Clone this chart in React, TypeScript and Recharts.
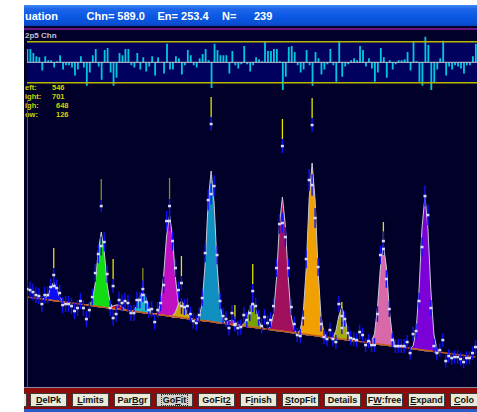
import React from 'react';
import {
  ComposedChart,
  BarChart,
  Bar,
  Area,
  Scatter,
  ErrorBar,
  XAxis,
  YAxis,
  ReferenceLine,
  ReferenceArea,
} from 'recharts';

const FIRST_CH = 546;
const LAST_CH = 701;

// measured counts, one value per channel from FIRST_CH
const counts = [
  99, 98, 96, 93, 92, 84, 93, 93, 101, 102,
  100, 95, 83, 84, 84, 82, 77, 80, 87, 80,
  69, 78, 91, 115, 134, 142, 146, 114, 80, 70,
  74, 88, 85, 87, 85, 75, 75, 88, 88, 99,
  86, 78, 79, 66, 78, 85, 103, 167, 167, 147,
  120, 98, 82, 81, 82, 74, 67, 65, 73, 90,
  135, 188, 194, 202, 133, 87, 72, 69, 60, 75,
  64, 60, 61, 73, 68, 75, 84, 82, 70, 62,
  71, 65, 68, 82, 120, 164, 165, 151, 120, 81,
  64, 53, 52, 70, 129, 208, 203, 170, 121, 64,
  51, 49, 58, 49, 46, 84, 72, 69, 55, 50,
  49, 48, 56, 53, 43, 47, 43, 43, 74, 133,
  147, 109, 79, 48, 42, 42, 42, 42, 46, 35,
  54, 57, 87, 141, 192, 173, 80, 42, 35, 38,
  48, 27, 32, 30, 31, 31, 29, 26, 30, 30, 35, 41,
];

// fitted background level under each channel
const background = [
  91, 91, 90, 90, 89, 89, 89, 88, 88, 87,
  87, 87, 86, 86, 85, 85, 85, 84, 84, 83,
  83, 83, 82, 82, 81, 81, 81, 80, 80, 79,
  79, 79, 78, 78, 77, 77, 77, 76, 76, 75,
  75, 75, 74, 74, 73, 73, 73, 72, 72, 71,
  71, 71, 70, 70, 69, 69, 69, 68, 68, 67,
  67, 67, 66, 66, 65, 65, 65, 64, 64, 63,
  63, 63, 62, 62, 61, 61, 61, 60, 60, 59,
  59, 59, 58, 58, 57, 57, 57, 56, 56, 55,
  55, 55, 54, 54, 53, 53, 53, 52, 52, 51,
  51, 51, 50, 50, 49, 49, 49, 48, 48, 47,
  47, 47, 46, 46, 45, 45, 45, 44, 44, 43,
  43, 43, 42, 42, 41, 41, 41, 40, 40, 39,
  39, 39, 38, 38, 37, 37, 37, 36, 36, 35,
  35, 35, 34, 34, 33, 33, 33, 32, 32, 31, 31, 31,
];

// normalised residuals (data - fit) / sigma
const residuals = [
  1.3, 1.3, 0.9, 0.6, 0.5, -0.8, 0.6, 0.2, 0.2, -0.5,
  0.1, 0.7, -0.7, -0.3, -0.3, -0.5, -1.3, -0.7, 0.6, -0.5,
  -2.3, -1.0, 0.7, 1.3, -0.4, -1.7, 1.2, 1.4, -1.0, -2.3,
  -1.5, 0.9, 0.7, 1.3, 1.3, -0.3, -0.5, 0.9, -0.7, 0.5,
  -0.9, -0.4, 0.6, -1.3, 0.5, 0.0, -1.1, 1.8, -0.7, -0.7,
  0.6, 0.4, -1.2, -0.3, 1.2, 0.7, -0.3, -0.5, 0.4, 0.8,
  1.3, 0.2, -2.5, 1.8, 1.2, 0.7, 0.7, 0.7, -1.1, 1.1,
  -0.3, -0.6, -0.2, 1.6, -0.2, -0.9, -0.3, 0.5, 0.3, 0.1,
  2.0, 1.1, 1.1, 1.3, 1.3, 0.1, -2.7, -1.4, 1.5, 1.6,
  1.0, -0.3, -1.0, -0.7, 1.2, -0.3, -2.3, 1.0, 0.4, -1.2,
  -0.7, -0.2, 1.3, -0.3, -1.9, 2.0, -1.4, -0.4, -0.2, 0.2,
  0.4, 0.2, 1.6, 1.2, -0.4, 0.4, -0.6, -1.9, -1.0, 1.4,
  0.5, -1.5, 0.2, -0.7, -0.2, 0.2, 0.2, 0.3, 1.0, -0.8,
  2.0, 0.1, -1.9, -2.3, 2.5, 1.7, -2.7, -2.0, -0.7, 0.4,
  2.1, -1.3, -0.4, -0.7, -0.3, -0.4, -0.6, -1.1, -0.3, -0.3, 0.6, 1.8,
];

// fitted peak components: first channel and net height per channel
const peakStarts = [551, 566, 573, 581, 589, 594, 603, 612, 618, 627, 637, 648, 661, 675];
const peakNets = [
  [0, 1, 4, 12, 19, 12, 4, 1, 0],
  [0, 1, 5, 23, 56, 75, 56, 23, 5, 1, 0],
  [0, 1, 3, 4, 4, 3, 1, 0],
  [0, 1, 6, 16, 21, 16, 6, 1, 0],
  [0, 2, 12, 39, 80, 101, 80, 39, 12, 2, 0],
  [0, 1, 5, 13, 17, 13, 5, 1, 0],
  [0, 3, 18, 58, 119, 151, 119, 58, 18, 3, 0],
  [0, 1, 3, 5, 3, 1, 0],
  [0, 2, 8, 19, 25, 19, 8, 2, 0],
  [0, 3, 16, 52, 106, 134, 106, 52, 16, 3, 0],
  [0, 4, 20, 66, 136, 172, 136, 66, 20, 4, 0],
  [0, 1, 8, 23, 32, 23, 8, 1, 0],
  [0, 2, 10, 36, 78, 100, 78, 36, 10, 2, 0],
  [0, 3, 18, 60, 122, 155, 122, 60, 18, 3, 0],
];
const peakColors = [
  '#0c0cf0', '#12dc12', '#d01010', '#1cb4c8', '#c010c0', '#c8a800', '#1090c0',
  '#a020a0', '#78a000', '#a0105c', '#f0a000', '#a8a810', '#d868a8', '#7c00d8',
];

// peak position markers
const markerChannels = [555, 571, 575, 585, 594, 598, 608, 616, 622, 632, 642, 652, 666];
const markerTops = [140, 209, 129, 120, 210, 132, 291, 83, 124, 269, 290, 86, 166];
const markerBottoms = [120, 188, 109, 100, 189, 112, 271, 69, 104, 249, 270, 66, 145];
const markerDots = [113, 182, 102, 93, 182, 105, 264, 63, 97, 242, 263, 60, 139];
const markerOlive = [false, true, false, true, true, false, false, false, false, false, false, false, false];

const buttonLabels = ['DelPk', 'Limits', 'ParBgr', 'GoFit', 'GoFit2', 'Finish', 'StopFit', 'Details', 'FW:free', 'Expand', 'Colo'];
const buttonKeys = [0, 0, 3, 2, 5, 1, 0, -1, 1, 0, 0];

const PX_PER_CH = 2.97;
const CHART_W = (LAST_CH - FIRST_CH) * PX_PER_CH;
const BG = '#000028';
const ERR_BLUE = '#1010ff';

// poisson error on the displayed (offset-suppressed) counts
const sigma = (c: number) => 0.65 * Math.sqrt(c + 72);

const rows = counts.map((count, i) => {
  const ch = FIRST_CH + i;
  const row: any = { ch, count, err: sigma(count), r: residuals[i] };
  peakNets.forEach((net, k) => {
    const j = ch - peakStarts[k];
    if (j >= 0 && j < net.length) row['p' + k] = [background[i], background[i] + net[j]];
  });
  return row;
});

const markerRows = markerChannels.map((ch, k) => ({
  ch,
  dot: markerDots[k],
  err: markerBottoms[k] - markerDots[k],
}));

const DataPoint = (p: any) => (
  <rect x={p.cx - 1.5} y={p.cy - 1.2} width={3} height={2.5} fill="#d6d6f6" />
);

const textFont = '"Liberation Sans", Arial, sans-serif';

const Stat = ({ label, value, y, valueX }: any) => (
  <>
    <span style={{ position: 'absolute', left: 1, top: y, whiteSpace: 'nowrap' }}>{label}</span>
    <span style={{ position: 'absolute', left: valueX, top: y }}>{value}</span>
  </>
);

export default function App() {
  return (
    <div style={{ position: 'fixed', left: 0, top: 0, width: 477, height: 412, background: '#fff', overflow: 'hidden' }}>
      <div style={{ position: 'absolute', left: 24, top: 5, width: 453, height: 407, overflow: 'hidden', background: BG, fontFamily: textFont }}>
        {/* title bar */}
        <div style={{ position: 'absolute', left: 0, top: 0, width: 453, height: 21, background: 'linear-gradient(#3f8af6 0%, #1e66ea 18%, #0b58e4 55%, #0a50d6 85%, #0846c2 100%)' }} />
        <div style={{ position: 'absolute', top: 5, left: 0, width: 453, color: '#fff', fontWeight: 700, fontSize: 11, lineHeight: '13px', whiteSpace: 'nowrap' }}>
          <span style={{ position: 'absolute', left: 1 }}>uation</span>
          <span style={{ position: 'absolute', left: 62.5 }}>Chn= 589.0</span>
          <span style={{ position: 'absolute', left: 133.5 }}>En= 253.4</span>
          <span style={{ position: 'absolute', left: 198 }}>N=</span>
          <span style={{ position: 'absolute', left: 230 }}>239</span>
        </div>
        <div style={{ position: 'absolute', left: 0, top: 22.5, width: 453, height: 2, background: '#6a1484' }} />

        <div style={{ position: 'absolute', left: 1, top: 26, color: '#c4c4d4', fontSize: 8, fontWeight: 700, lineHeight: '9px', whiteSpace: 'nowrap' }}>2p5 Chn</div>

        {/* residuals */}
        <div style={{ position: 'absolute', left: 3, top: 24 }}>
          <BarChart width={CHART_W} height={66.6} data={rows} margin={{ top: 0, right: 0, bottom: 0, left: 0 }} barSize={1.8}>
            <XAxis dataKey="ch" type="number" domain={[FIRST_CH, LAST_CH]} hide />
            <YAxis type="number" domain={[-3.25, 3.25]} hide allowDataOverflow />
            <ReferenceArea y1={-2} y2={2} fill="#00005e" fillOpacity={1} stroke="none" />
            <ReferenceLine y={2} stroke="#b8b800" strokeWidth={1.5} />
            <ReferenceLine y={-2} stroke="#b8b800" strokeWidth={1.5} />
            <ReferenceLine y={0} stroke="#c8c8dc" strokeWidth={1} />
            <Bar dataKey="r" fill="#00c8dc" isAnimationActive={false} />
          </BarChart>
        </div>

        {/* fit limits */}
        <div style={{ position: 'absolute', left: 0, top: 0, color: '#d4d400', fontSize: 7.5, fontWeight: 700, lineHeight: '9px' }}>
          <Stat label="eft:" value="546" y={77.8} valueX={28} />
          <Stat label="ight:" value="701" y={87} valueX={28} />
          <Stat label="igh:" value="648" y={96} valueX={32} />
          <Stat label="ow:" value="126" y={105} valueX={32} />
        </div>

        <div style={{ position: 'absolute', left: 2.5, top: 95, width: 1, height: 287, background: '#50506e' }} />

        {/* spectrum with fitted components */}
        <div style={{ position: 'absolute', left: 3, top: 83 }}>
          <ComposedChart width={CHART_W} height={300} data={rows} margin={{ top: 0, right: 0, bottom: 0, left: 0 }}>
            <XAxis dataKey="ch" type="number" domain={[FIRST_CH, LAST_CH]} hide allowDataOverflow />
            <YAxis type="number" domain={[0, 300]} hide allowDataOverflow />
            {peakNets.map((_, k) => (
              <Area
                key={k}
                type="linear"
                dataKey={'p' + k}
                fill={peakColors[k]}
                fillOpacity={1}
                stroke="#c8c8d8"
                strokeWidth={1}
                dot={false}
                activeDot={false}
                isAnimationActive={false}
              />
            ))}
            <ReferenceLine
              segment={[
                { x: FIRST_CH, y: background[0] },
                { x: FIRST_CH + background.length - 1, y: background[background.length - 1] },
              ]}
              stroke="#c85a14"
              strokeWidth={1.5}
            />
            {markerChannels.map((ch, k) => (
              <ReferenceLine
                key={'m' + k}
                segment={[{ x: ch, y: markerBottoms[k] }, { x: ch, y: markerTops[k] }]}
                stroke={markerOlive[k] ? '#8c8c1c' : '#e4e400'}
                strokeWidth={1.3}
              />
            ))}
            <Scatter data={markerRows} dataKey="dot" shape={DataPoint} isAnimationActive={false}>
              <ErrorBar dataKey="err" direction="y" width={0} stroke={ERR_BLUE} strokeWidth={1.4} />
            </Scatter>
            <Scatter dataKey="count" shape={DataPoint} isAnimationActive={false}>
              <ErrorBar dataKey="err" direction="y" width={0} stroke={ERR_BLUE} strokeWidth={1.4} />
            </Scatter>
          </ComposedChart>
        </div>

        {/* button strip */}
        <div style={{ position: 'absolute', left: 0, top: 381.5, width: 453, height: 1.5, background: '#8a8aa2' }} />
        <div style={{ position: 'absolute', left: 0, top: 383, width: 453, height: 21, background: '#8c0a0a' }} />
        <div style={{ position: 'absolute', left: 0, top: 404, width: 453, height: 3, background: '#2a5ac8' }} />
        <div style={{ position: 'absolute', left: -33, top: 388, width: 36, height: 14, background: '#ece9d8', border: '1px solid #3a3a3a', boxSizing: 'border-box' }} />
        {buttonLabels.map((label, k) => {
          const u = buttonKeys[k];
          const pressed = label === 'GoFit';
          const last = k === buttonLabels.length - 1;
          return (
            <div
              key={label}
              style={{
                position: 'absolute',
                left: 6 + 42 * k,
                top: 388,
                width: 37,
                height: 14,
                boxSizing: 'border-box',
                background: pressed ? '#d6d3ca' : '#ece9d8',
                border: '1px solid #3a3a3a',
                fontSize: 9,
                fontWeight: 700,
                color: '#111',
                lineHeight: '12px',
                textAlign: last ? 'left' : 'center',
                paddingLeft: last ? 3 : 0,
                whiteSpace: 'nowrap',
              }}
            >
              <span style={pressed ? { border: '1px dotted #333', padding: '0 1px' } : undefined}>
                {u < 0 ? label : (
                  <>
                    {label.slice(0, u)}
                    <u>{label[u]}</u>
                    {label.slice(u + 1)}
                  </>
                )}
              </span>
            </div>
          );
        })}
      </div>
    </div>
  );
}
